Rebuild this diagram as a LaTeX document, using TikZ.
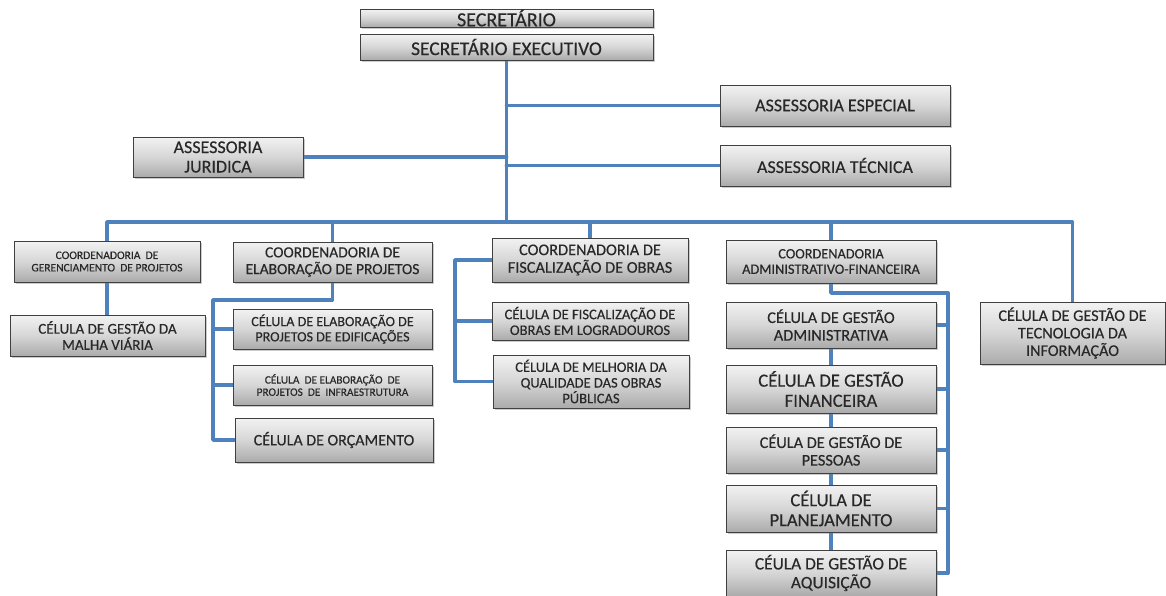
\documentclass[tikz,border=0pt]{standalone}
\usepackage{fontspec}
\setmainfont{Carlito}[FakeBold=0.35]
\usetikzlibrary{shadows,backgrounds}
\definecolor{linkblue}{RGB}{79,129,189}
\definecolor{boxtext}{RGB}{40,40,40}
\newcommand{\fsz}[1]{\fontsize{#1}{1.08\dimexpr #1pt\relax}\selectfont}
\tikzset{
  box/.style={draw=black!75, line width=0.9pt, top color=gray!10, bottom color=gray!66,
    middle color=gray!32, drop shadow={shadow xshift=1.5pt, shadow yshift=-1.5pt, opacity=0.4},
    align=center, inner sep=0pt, text=boxtext, font=\fsz{15}},
  link/.style={draw=linkblue, line width=3.8pt, line join=round, line cap=round}
}
\begin{document}
\begin{tikzpicture}[x=1pt,y=-1pt]
\useasboundingbox (0,0) rectangle (1166,595);

% top of the hierarchy
\node[box, minimum width=293, minimum height=18, font=\fsz{20}] (sec) at (506.5,18) {SECRETÁRIO};
\node[box, minimum width=293, minimum height=26, font=\fsz{19.5}] (exe) at (506.5,47) {SECRETÁRIO EXECUTIVO};

% advisory units
\node[box, minimum width=230, minimum height=41, font=\fsz{18}] (esp) at (835,105.5) {ASSESSORIA ESPECIAL};
\node[box, minimum width=230, minimum height=41, font=\fsz{18}] (tec) at (835,165.5) {ASSESSORIA TÉCNICA};
\node[box, minimum width=170, minimum height=40, font=\fsz{18}] (jur) at (218,157) {ASSESSORIA\\ JURIDICA};

% coordination units
\node[box, minimum width=186, minimum height=41, font=\fsz{11.5}] (cg) at (107,261.5) {COORDENADORIA\ \ DE\\ GERENCIAMENTO\ \ DE PROJETOS};
\node[box, minimum width=199, minimum height=40, font=\fsz{15.5}] (ce) at (332.5,262) {COORDENADORIA DE\\ ELABORAÇÃO DE PROJETOS};
\node[box, minimum width=196, minimum height=44, font=\fsz{16.3}] (cf) at (590,260) {COORDENADORIA DE\\ FISCALIZAÇÃO DE OBRAS};
\node[box, minimum width=210, minimum height=43, font=\fsz{14.3}] (ca) at (831,261.5) {COORDENADORIA\\ ADMINISTRATIVO-FINANCEIRA};
\node[box, minimum width=185, minimum height=62, font=\fsz{16.2}] (ti) at (1072.5,333) {CÉLULA DE GESTÃO DE\\ TECNOLOGIA DA\\ INFORMAÇÃO};

% cells under the project management unit
\node[box, minimum width=195, minimum height=41, font=\fsz{15}] (malha) at (107.5,335.5) {CÉLULA DE GESTÃO DA\\ MALHA VIÁRIA};

% cells under the project design unit
\node[box, minimum width=199, minimum height=40, font=\fsz{14.1}] (edif) at (332.5,329) {CÉLULA DE ELABORAÇÃO DE\\ PROJETOS DE EDIFICAÇÕES};
\node[box, minimum width=199, minimum height=40, font=\fsz{11.3}] (infra) at (332.5,385) {CÉLULA\ \ DE ELABORAÇÃO\ \ DE\\ PROJETOS\ \ DE\ \ INFRAESTRUTURA};
\node[box, minimum width=198, minimum height=44, font=\fsz{16}] (orc) at (334,440) {CÉLULA DE ORÇAMENTO};

% cells under the works inspection unit
\node[box, minimum width=196, minimum height=38, font=\fsz{14.6}] (logr) at (590,321) {CÉLULA DE FISCALIZAÇÃO DE\\ OBRAS EM LOGRADOUROS};
\node[box, minimum width=196, minimum height=53, font=\fsz{14.5}] (melh) at (591,381.5) {CÉLULA DE MELHORIA DA\\ QUALIDADE DAS OBRAS\\ PÚBLICAS};

% cells under the administrative-financial unit
\node[box, minimum width=210, minimum height=46, font=\fsz{16.3}] (adm) at (831,325) {CÉLULA DE GESTÃO\\ ADMINISTRATIVA};
\node[box, minimum width=210, minimum height=48, font=\fsz{18.6}] (fin) at (831,389) {CÉLULA DE GESTÃO\\ FINANCEIRA};
\node[box, minimum width=210, minimum height=46, font=\fsz{16.3}] (pes) at (831,450) {CÉULA DE GESTÃO DE\\ PESSOAS};
\node[box, minimum width=210, minimum height=47, font=\fsz{18.5}] (pla) at (831,508.5) {CÉLULA DE\\ PLANEJAMENTO};
\node[box, minimum width=210, minimum height=46, font=\fsz{17.4}] (aq) at (831,573) {CÉULA\ DE GESTÃO DE\\ AQUISIÇÃO};

% white page and connectors, drawn underneath the boxes
\begin{scope}[on background layer]
  \fill[white] (0,0) rectangle (1166,595);

  \coordinate (bus) at (0,222);
  \coordinate (ceturn) at (0,300);
  \coordinate (ceside) at (213,0);
  \coordinate (cfside) at (455,0);
  \coordinate (caturn) at (0,293);
  \coordinate (caside) at (948,0);

  % main trunk and advisory branches
  \draw[link] (exe.south) -- (exe.south |- bus);
  \draw[link] (exe.south |- esp.west) -- (esp.west);
  \draw[link] (exe.south |- tec.west) -- (tec.west);
  \draw[link] (jur.east) -- (jur.east -| exe.south);

  % horizontal bus and drops to the coordination units
  \draw[link] (cg.north) |- (ti.north |- bus) -- (ti.north);
  \draw[link] (ce.north |- bus) -- (ce.north);
  \draw[link] (cf.north |- bus) -- (cf.north);
  \draw[link] (ca.north |- bus) -- (ca.north);

  % project management
  \draw[link] (cg.south) -- (cg.south |- malha.north);

  % project design bracket
  \draw[link] (ce.south) -- (ce.south |- ceturn) -| (ceside |- orc.west) -- (orc.west);
  \draw[link] (ceside |- edif.west) -- (edif.west);
  \draw[link] (ceside |- infra.west) -- (infra.west);

  % works inspection bracket
  \draw[link] (cf.west) -| (cfside |- melh.west) -- (melh.west);
  \draw[link] (cfside |- logr.west) -- (logr.west);

  % administrative-financial bracket
  \draw[link] (ca.south) -- (ca.south |- caturn) -| (caside |- aq.east) -- (aq.east);
  \draw[link] (caside |- adm.east) -- (adm.east);
  \draw[link] (caside |- fin.east) -- (fin.east);
  \draw[link] (caside |- pes.east) -- (pes.east);
  \draw[link] (caside |- pla.east) -- (pla.east);
  \draw[link] (adm.south) -- (aq.north);
\end{scope}
\end{tikzpicture}
\end{document}
